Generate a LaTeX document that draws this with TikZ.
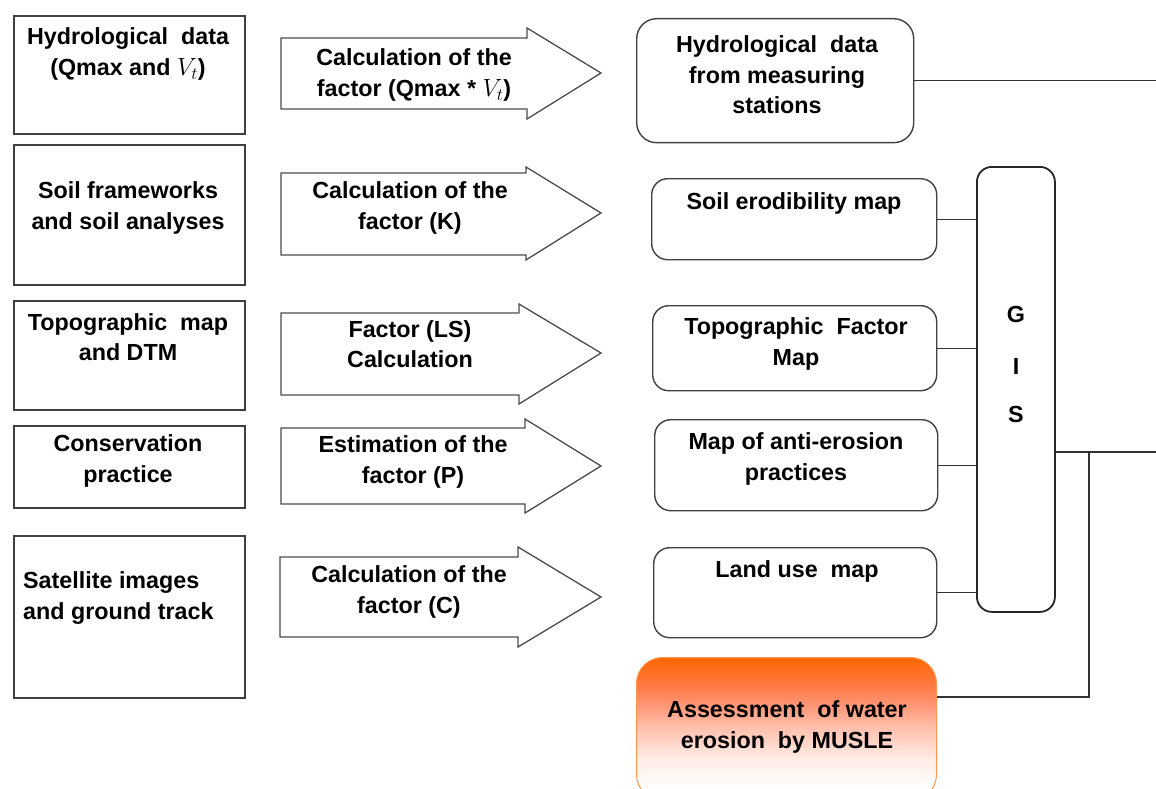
\documentclass[tikz,border=0pt]{standalone}
\usepackage{fontspec}
\setmainfont{Liberation Sans}
\pgfdeclareverticalshading{musleshade}{100bp}{%
  color(0bp)=(white); color(30bp)=(white);
  color(40bp)=(rgb,255:red,255;green,235;blue,228);
  color(50bp)=(rgb,255:red,255;green,194;blue,176);
  color(58bp)=(rgb,255:red,255;green,152;blue,120);
  color(65bp)=(rgb,255:red,255;green,122;blue,69);
  color(75bp)=(rgb,255:red,255;green,102;blue,0);
  color(100bp)=(rgb,255:red,255;green,102;blue,0)}
\begin{document}
\begin{tikzpicture}[x=1pt,y=-1pt,
  every node/.style={font=\bfseries\fontsize{23.3}{30.5}\selectfont, text=black, inner sep=0pt},
  srcbox/.style={draw=black!75, line width=1.6pt, minimum width=231pt, anchor=north west},
  mapbox/.style={draw=black!75, line width=1.4pt, rounded corners=16pt, anchor=north west},
  arrowshape/.style={draw=black!70, line width=1.3pt, line join=miter, fill=white},
  conn/.style={draw=black!80, line width=1.3pt},
  txt/.style={align=center}
]
\useasboundingbox (0,0) rectangle (1156,789);
\fill[white] (0,0) rectangle (1156,789);

% left source boxes
\node[srcbox, minimum height=118pt] (s1) at (13,15) {};
\node[srcbox, minimum height=140pt] (s2) at (13,144) {};
\node[srcbox, minimum height=109pt] (s3) at (13,300) {};
\node[srcbox, minimum height=82pt] (s4) at (13,425) {};
\node[srcbox, minimum height=162pt] (s5) at (13,535) {};

\node[txt] (t1) at (128,54) {Hydrological\ \ data\\(Qmax and $V_t$)};
\node[txt] (t2) at (128,208) {Soil frameworks\\and soil analyses};
\node[txt] (t3) at (128,337) {Topographic\ \ map\\and DTM};
\node[txt] (t4) at (128,461) {Conservation\\practice};
\node[align=left, anchor=west] (t5) at (23,598) {Satellite images\\and ground track};

% block arrows
\draw[arrowshape] (281,38) -- (527,38) -- (527,28) -- (601,73) -- (527,119) -- (527,109) -- (281,109) -- cycle;
\draw[arrowshape] (281,173) -- (526,173) -- (526,167) -- (601,213) -- (526,260) -- (526,255) -- (281,255) -- cycle;
\draw[arrowshape] (281,313) -- (519,313) -- (519,304) -- (601,353) -- (519,404) -- (519,395) -- (281,395) -- cycle;
\draw[arrowshape] (281,428) -- (525,428) -- (525,419) -- (601,466) -- (525,513) -- (525,504) -- (281,504) -- cycle;
\draw[arrowshape] (280,557) -- (518,557) -- (518,547) -- (601,597) -- (518,647) -- (518,637) -- (280,637) -- cycle;

\node[txt] (a1) at (414,75) {Calculation\ of\ the\\factor (Qmax * $V_t$)};
\node[txt] (a2) at (410,208) {Calculation\ of\ the\\factor (K)};
\node[txt] (a3) at (410,344) {Factor\ (LS)\\Calculation};
\node[txt] (a4) at (413,462) {Estimation\ of\ the\\factor (P)};
\node[txt] (a5) at (409,592) {Calculation\ of\ the\\factor (C)};

% right map boxes
\node[mapbox, rounded corners=20pt, minimum width=277pt, minimum height=124pt] (hyd) at (636,18) {};
\node[mapbox, minimum width=285pt, minimum height=81pt] (soil) at (651,178) {};
\node[mapbox, minimum width=284pt, minimum height=85pt] (topo) at (652,305) {};
\node[mapbox, minimum width=283pt, minimum height=91pt] (anti) at (654,419) {};
\node[mapbox, minimum width=283pt, minimum height=90pt] (land) at (653,547) {};
\node[draw=black!85, line width=1.8pt, rounded corners=15pt, anchor=north west, minimum width=78pt, minimum height=445pt] (gis) at (976,166) {};
\node[anchor=north west, rounded corners=26pt, draw={rgb,255:red,255;green,150;blue,80}, line width=1pt,
      shading=musleshade, minimum width=300pt, minimum height=143pt] (musle) at (636,657) {};

\node[txt] (th) at (777,75) {Hydrological\ \ data\\from measuring\\stations};
\node[txt] (ts) at (794,203) {Soil erodibility map};
\node[txt] (tt) at (796,344) {Topographic\ \ Factor\\Map};
\node[txt] (ta) at (796,459) {Map of anti-erosion\\practices};
\node[txt] (tl) at (797,571) {Land use\ \ map};
\node[txt] (tm) at (787,727) {Assessment\ \ of water\\erosion\ \ by MUSLE};
\node (g1) at (1016,314) {G};
\node (g2) at (1016,366) {I};
\node (g3) at (1016,414) {S};

% connectors
\coordinate (hout) at (1156,80);
\coordinate (gout) at (1156,452);
\coordinate (j1) at (1089,452);
\coordinate (j2) at (1089,697);
\draw[conn] (hyd.east) -- (hyd.east -| hout);
\draw[conn] (soil.east) -- (soil.east -| gis.west);
\draw[conn] (topo.east) -- (topo.east -| gis.west);
\draw[conn] (anti.east) -- ([xshift=2pt]anti.east -| gis.west);
\draw[conn] (land.east) -- (land.east -| gis.west);
\draw[conn] (gis.east |- gout) -- (gout);
\draw[conn] (j1) -- (j2) -- (musle.east |- j2);
\end{tikzpicture}
\end{document}
